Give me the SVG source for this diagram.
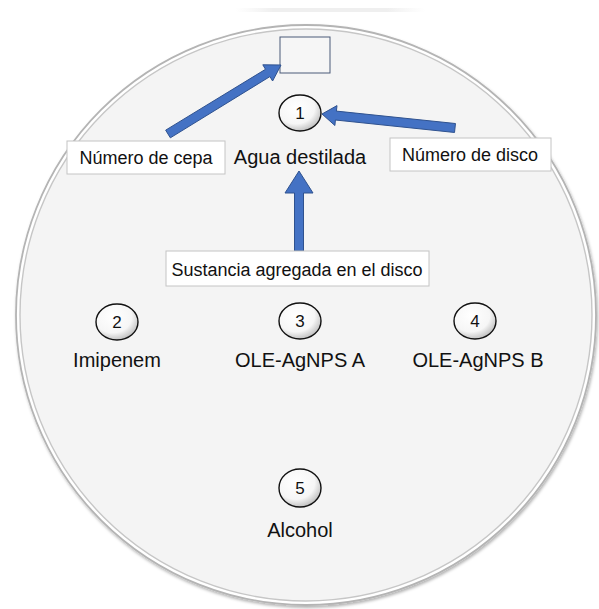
<svg xmlns="http://www.w3.org/2000/svg" width="599" height="609" viewBox="0 0 599 609">
<defs>
<radialGradient id="disc" cx="0.4" cy="0.35" r="0.75">
<stop offset="0" stop-color="#ffffff"/>
<stop offset="0.6" stop-color="#f6f6f6"/>
<stop offset="0.85" stop-color="#c8c8c8"/>
<stop offset="1" stop-color="#6e6e6e"/>
</radialGradient>
<linearGradient id="topline" x1="0" y1="0" x2="1" y2="0">
<stop offset="0" stop-color="#f2f2f2" stop-opacity="0"/>
<stop offset="0.2" stop-color="#efefef"/>
<stop offset="0.8" stop-color="#efefef"/>
<stop offset="1" stop-color="#f2f2f2" stop-opacity="0"/>
</linearGradient>
<filter id="sh" x="-10%" y="-10%" width="120%" height="120%">
<feGaussianBlur in="SourceAlpha" stdDeviation="1.5"/>
<feOffset dx="1" dy="1.5" result="b"/>
<feFlood flood-color="#000" flood-opacity="0.3"/>
<feComposite in2="b" operator="in"/>
<feMerge><feMergeNode/><feMergeNode in="SourceGraphic"/></feMerge>
</filter>
</defs>
<style>
.lbl{font-family:"Liberation Sans",Arial,sans-serif;font-size:20px;fill:#111;text-anchor:middle}
.num{font-family:"Liberation Sans",Arial,sans-serif;font-size:17px;fill:#111;text-anchor:middle}
.box{fill:#ffffff;stroke:#c4c4c4;stroke-width:1}
.boxt{font-family:"Liberation Sans",Arial,sans-serif;font-size:18px;fill:#111;text-anchor:middle}
.disc{fill:url(#disc);stroke:#111;stroke-width:1.4}
.arrow{fill:#4472c4;stroke:#2f528f;stroke-width:1}
</style>
<rect width="599" height="609" fill="#ffffff"/>
<rect x="235" y="8" width="190" height="4" fill="url(#topline)"/>
<g id="plate">
<circle cx="306" cy="315" r="290" fill="#ffffff" stroke="#b4b4b4" stroke-width="1.8" filter="url(#sh)"/>
<circle cx="306" cy="315" r="286" fill="#f4f4f4" stroke="#c6c6c6" stroke-width="1.4"/>
</g>
<g id="strain-box">
<rect x="280" y="37" width="50" height="36" fill="#f6f6f6" stroke="#4a5a78" stroke-width="1"/>
</g>
<g id="connectors">
<polygon class="arrow" points="165.65,130.16 265.5,69.3 262.8,64.8 281,65 272.6,81 269.9,76.6 170.35,137.84"/>
<polygon class="arrow" points="455.47,123.52 336.4,111.1 337,105.6 322,114 334.9,125.5 335.4,120.0 454.53,132.48"/>
<polygon class="arrow" points="294.5,251 294.5,193 285,193 299,171 313,193 303.5,193 303.5,251"/>
</g>
<g id="disk1">
<ellipse class="disc" cx="300" cy="113" rx="21" ry="18"/>
<text class="num" x="300" y="119">1</text>
<text class="lbl" x="300" y="164">Agua destilada</text>
</g>
<g id="disk2">
<ellipse class="disc" cx="117" cy="322" rx="21" ry="18"/>
<text class="num" x="117" y="328">2</text>
<text class="lbl" x="117" y="367">Imipenem</text>
</g>
<g id="disk3">
<ellipse class="disc" cx="300" cy="321" rx="21" ry="18"/>
<text class="num" x="300" y="327">3</text>
<text class="lbl" x="300" y="367">OLE-AgNPS A</text>
</g>
<g id="disk4">
<ellipse class="disc" cx="475" cy="321" rx="21" ry="18"/>
<text class="num" x="475" y="327">4</text>
<text class="lbl" x="478" y="367">OLE-AgNPS B</text>
</g>
<g id="disk5">
<ellipse class="disc" cx="300" cy="488" rx="21" ry="19"/>
<text class="num" x="300" y="494">5</text>
<text class="lbl" x="300" y="537">Alcohol</text>
</g>
<g id="label-cepa">
<rect class="box" x="67" y="141" width="158" height="33"/>
<text class="boxt" x="146" y="164">Número de cepa</text>
</g>
<g id="label-disco">
<rect class="box" x="390" y="138" width="161" height="33"/>
<text class="boxt" x="470" y="161">Número de disco</text>
</g>
<g id="label-sustancia">
<rect class="box" x="166" y="251" width="263" height="35"/>
<text class="boxt" x="297" y="276">Sustancia agregada en el disco</text>
</g>
</svg>
